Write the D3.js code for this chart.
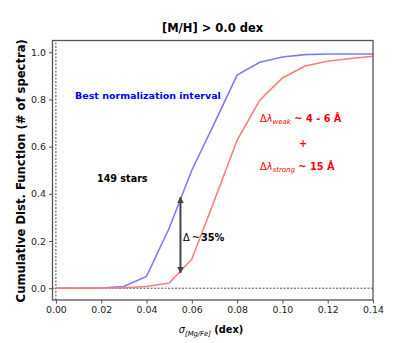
<!DOCTYPE html>
<html>
<head>
<meta charset="utf-8">
<script src="https://cdn.jsdelivr.net/npm/d3@7"></script>
<style>
  body { margin: 0; background: #fff; }
  svg text { font-family: "DejaVu Sans", sans-serif; }
</style>
</head>
<body>
<div id="chart"></div>
<script>
// sigma values (dex) and cumulative fractions
const sigma = [0, 0.01, 0.02, 0.03, 0.04, 0.05, 0.06, 0.07, 0.08, 0.09, 0.10, 0.11, 0.12, 0.13, 0.14];
const cdfBest = [0, 0, 0.001, 0.007, 0.05, 0.254, 0.50, 0.70, 0.903, 0.958, 0.98, 0.99, 0.993, 0.993, 0.993];
const cdfOther = [0, 0, 0.001, 0.002, 0.007, 0.022, 0.123, 0.373, 0.627, 0.797, 0.891, 0.942, 0.962, 0.974, 0.983];
const xTicks = [0.00, 0.02, 0.04, 0.06, 0.08, 0.10, 0.12, 0.14];
const yTicks = [0.0, 0.2, 0.4, 0.6, 0.8, 1.0];
const arrowAt = { x: 0.055, y0: 0.386, y1: 0.065 };

const width = 415, height = 343;
const margin = { left: 52.5, right: 42, top: 40.5, bottom: 43 };

const svg = d3.select("#chart")
    .append("svg")
    .attr("width", width)
    .attr("height", height);

const x = d3.scaleLinear()
    .domain([-0.0015, 0.14])
    .range([margin.left, width - margin.right]);
const y = d3.scaleLinear()
    .domain([-0.05, 1.05])
    .range([height - margin.bottom, margin.top]);

// reference lines at zero
svg.append("line")
    .attr("x1", x(0)).attr("x2", x(0))
    .attr("y1", y.range()[0]).attr("y2", y.range()[1])
    .attr("stroke", "#000").attr("stroke-width", 0.7)
    .attr("stroke-dasharray", "2,1.5");
svg.append("line")
    .attr("x1", x.range()[0]).attr("x2", x.range()[1])
    .attr("y1", y(0)).attr("y2", y(0))
    .attr("stroke", "#000").attr("stroke-width", 0.7)
    .attr("stroke-dasharray", "2,1.5");

// curves
const line = d3.line()
    .x((d, i) => x(sigma[i]))
    .y(d => y(d));

svg.append("path")
    .datum(cdfBest)
    .attr("d", line)
    .attr("fill", "none")
    .attr("stroke", "#7b7bff")
    .attr("stroke-width", 1.6);

svg.append("path")
    .datum(cdfOther)
    .attr("d", line)
    .attr("fill", "none")
    .attr("stroke", "#ff7b7b")
    .attr("stroke-width", 1.6);

// double-headed arrow
const defs = svg.append("defs");
defs.append("marker")
    .attr("id", "head")
    .attr("viewBox", "0 0 10 10")
    .attr("refX", 9).attr("refY", 5)
    .attr("markerWidth", 3.2).attr("markerHeight", 3.2)
    .attr("orient", "auto-start-reverse")
    .append("path")
    .attr("d", "M0,0 L10,5 L0,10 z")
    .attr("fill", "#444");

svg.append("line")
    .attr("x1", x(arrowAt.x)).attr("x2", x(arrowAt.x))
    .attr("y1", y(arrowAt.y0)).attr("y2", y(arrowAt.y1))
    .attr("stroke", "#444")
    .attr("stroke-width", 2)
    .attr("marker-start", "url(#head)")
    .attr("marker-end", "url(#head)");

// axes
const xAxis = svg.append("g")
    .attr("transform", `translate(0, ${y.range()[0]})`)
    .call(d3.axisBottom(x).tickValues(xTicks).tickFormat(d3.format(".2f")).tickSize(3.5).tickPadding(3));
const yAxis = svg.append("g")
    .attr("transform", `translate(${x.range()[0]}, 0)`)
    .call(d3.axisLeft(y).tickValues(yTicks).tickFormat(d3.format(".1f")).tickSize(3.5).tickPadding(3));

[xAxis, yAxis].forEach(g => {
    g.select(".domain").remove();
    g.selectAll("text")
        .style("font-family", "DejaVu Sans")
        .style("font-size", "9.4px")
        .attr("fill", "#222");
    g.selectAll(".tick line").attr("stroke", "#222").attr("stroke-width", 0.8);
});

// frame
svg.append("rect")
    .attr("x", x.range()[0]).attr("y", y.range()[1])
    .attr("width", x.range()[1] - x.range()[0])
    .attr("height", y.range()[0] - y.range()[1])
    .attr("fill", "none")
    .attr("stroke", "#555")
    .attr("stroke-width", 1.3);

// title
svg.append("text")
    .attr("x", 212.5).attr("y", 32)
    .attr("text-anchor", "middle")
    .style("font-size", "11.5px").style("font-weight", "bold")
    .text("[M/H] > 0.0 dex");

// axis labels
svg.append("text")
    .attr("transform", `translate(25, ${(y.range()[0] + y.range()[1]) / 2 + 0.5}) rotate(-90)`)
    .attr("text-anchor", "middle")
    .style("font-size", "11.6px").style("font-weight", "bold")
    .text("Cumulative Dist. Function (# of spectra)");

const xl = svg.append("text")
    .attr("x", 211).attr("y", 333)
    .attr("text-anchor", "middle")
    .style("font-size", "9.8px");
xl.append("tspan").style("font-style", "italic").text("σ");
xl.append("tspan").attr("dy", 2.5).style("font-style", "italic").style("font-size", "6.8px").text("[Mg/Fe]");
xl.append("tspan").attr("dy", -2.5).style("font-weight", "bold").text(" (dex)");

// annotations
svg.append("text")
    .attr("x", 75).attr("y", 98.5)
    .attr("fill", "#0000ff")
    .style("font-size", "9.5px").style("font-weight", "bold")
    .text("Best normalization interval");

function deltaLambda(ty, sub, rest) {
    const t = svg.append("text")
        .attr("x", 260).attr("y", ty)
        .attr("fill", "#ff0000")
        .style("font-size", "9.8px");
    t.append("tspan").text("Δ");
    t.append("tspan").style("font-style", "italic").text("λ");
    t.append("tspan").attr("dy", 2.5).style("font-style", "italic").style("font-size", "7px").text(sub);
    t.append("tspan").attr("dy", -2.5).style("font-weight", "bold").text("  ~  " + rest);
}
deltaLambda(121.5, "weak", "4 - 6 Å");
deltaLambda(169.5, "strong", "15 Å");

svg.append("text")
    .attr("x", 303).attr("y", 147)
    .attr("text-anchor", "middle")
    .attr("fill", "#ff0000")
    .style("font-size", "9.8px").style("font-weight", "bold")
    .text("+");

svg.append("text")
    .attr("x", 97).attr("y", 181.5)
    .style("font-size", "9.6px").style("font-weight", "bold")
    .text("149 stars");

const dt = svg.append("text")
    .attr("x", 183).attr("y", 240.5)
    .style("font-size", "9.8px");
dt.append("tspan").text("Δ");
dt.append("tspan").attr("dx", 2).text("~");
dt.append("tspan").attr("dx", 1).style("font-weight", "bold").text("35%");
</script>
</body>
</html>
